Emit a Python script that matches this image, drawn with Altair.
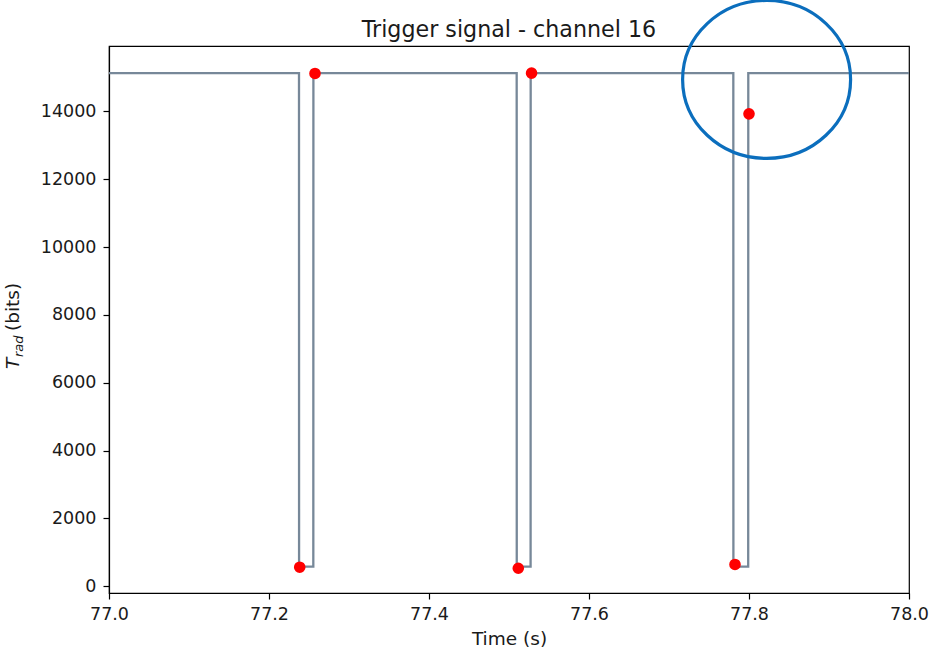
import altair as alt
import pandas as pd

# ---- data ----
line_t = [77.0, 77.2375, 77.2376, 77.2554, 77.2555, 77.5096, 77.5097, 77.5270,
          77.5271, 77.7804, 77.7805, 77.7990, 77.7991, 78.0]
line_v = [15130, 15130, 580, 580, 15130, 15130, 580, 580,
          15130, 15130, 580, 580, 15130, 15130]

dot_t = [77.2384, 77.2575, 77.5116, 77.5282, 77.7825, 77.8000]
dot_v = [560, 15120, 530, 15130, 642, 13930]

mark_t = [77.822]
mark_v = [14944]

x_ticks = [77.0, 77.2, 77.4, 77.6, 77.8, 78.0]
y_ticks = [0, 2000, 4000, 6000, 8000, 10000, 12000, 14000]

x_domain = [77.0, 78.0]
y_domain = [-200, 15930]

title_text = "Trigger signal - channel 16"

FONT = "DejaVu Sans"
INK = "#1a1a1a"

line_df = pd.DataFrame({"t": line_t, "v": line_v, "o": list(range(len(line_t)))})
dot_df = pd.DataFrame({"t": dot_t, "v": dot_v})
mark_df = pd.DataFrame({"t": mark_t, "v": mark_v})

xs = alt.Scale(domain=x_domain, nice=False, zero=False)
ys = alt.Scale(domain=y_domain, nice=False, zero=False)

x_axis = alt.Axis(values=x_ticks, format=".1f", tickSize=6, tickWidth=1.2,
                  tickColor="black", domainColor="black", domainWidth=1.2,
                  labelFontSize=17.5, labelFont=FONT, labelColor=INK,
                  labelPadding=6, labelFlush=False, grid=False,
                  title="Time (s)", titleFont=FONT, titleFontSize=18.5,
                  titleFontWeight="normal", titleColor=INK, titlePadding=7)
y_axis = alt.Axis(values=y_ticks, format="d", tickSize=6, tickWidth=1.2,
                  tickColor="black", domainColor="black", domainWidth=1.2,
                  labelFontSize=17.5, labelFont=FONT, labelColor=INK,
                  labelPadding=7, labelFlush=False, grid=False, title=None)

line = alt.Chart(line_df).mark_line(color="#778899", strokeWidth=2.3).encode(
    x=alt.X("t:Q", scale=xs, axis=x_axis),
    y=alt.Y("v:Q", scale=ys, axis=y_axis),
    order="o:Q",
)

dots = alt.Chart(dot_df).mark_circle(color="#ff0000", size=135, opacity=1).encode(
    x=alt.X("t:Q", scale=xs),
    y=alt.Y("v:Q", scale=ys),
)

ellipse_path = ("M 1 0 C 1 0.5192 0.5523 0.94 0 0.94 C -0.5523 0.94 -1 0.5192 -1 0 "
                "C -1 -0.5192 -0.5523 -0.94 0 -0.94 C 0.5523 -0.94 1 -0.5192 1 0 Z")
ring = alt.Chart(mark_df).mark_point(shape=ellipse_path, size=28224, filled=False,
                                     stroke="#0b6ebd", strokeWidth=3.2, opacity=1,
                                     clip=False).encode(
    x=alt.X("t:Q", scale=xs),
    y=alt.Y("v:Q", scale=ys),
)


def text_piece(txt, x, y, size, italic=False, angle=270, align="left"):
    return alt.Chart(pd.DataFrame({"s": [txt]})).mark_text(
        angle=angle, align=align, baseline="alphabetic", font=FONT,
        fontSize=size, fontStyle="italic" if italic else "normal",
        color=INK).encode(x=alt.value(x), y=alt.value(y), text="s:N")


ylab = (text_piece("T", -90, 323, 18.5, True)
        + text_piece("rad", -86.5, 311, 13, True)
        + text_piece("(bits)", -90, 285, 18.5))

title = text_piece(title_text, 400, -9.5, 22.2, angle=0, align="center")

chart = alt.layer(line, dots, ring, ylab, title).properties(
    width=800, height=547,
    autosize=alt.AutoSizeParams(type="none"),
    padding={"left": 109, "top": 46, "right": 21, "bottom": 59},
).configure(
    background="white",
    view=alt.ViewConfig(stroke="black", strokeWidth=1.2),
)

chart.save("out.html", embed_options={"renderer": "svg", "actions": False})
